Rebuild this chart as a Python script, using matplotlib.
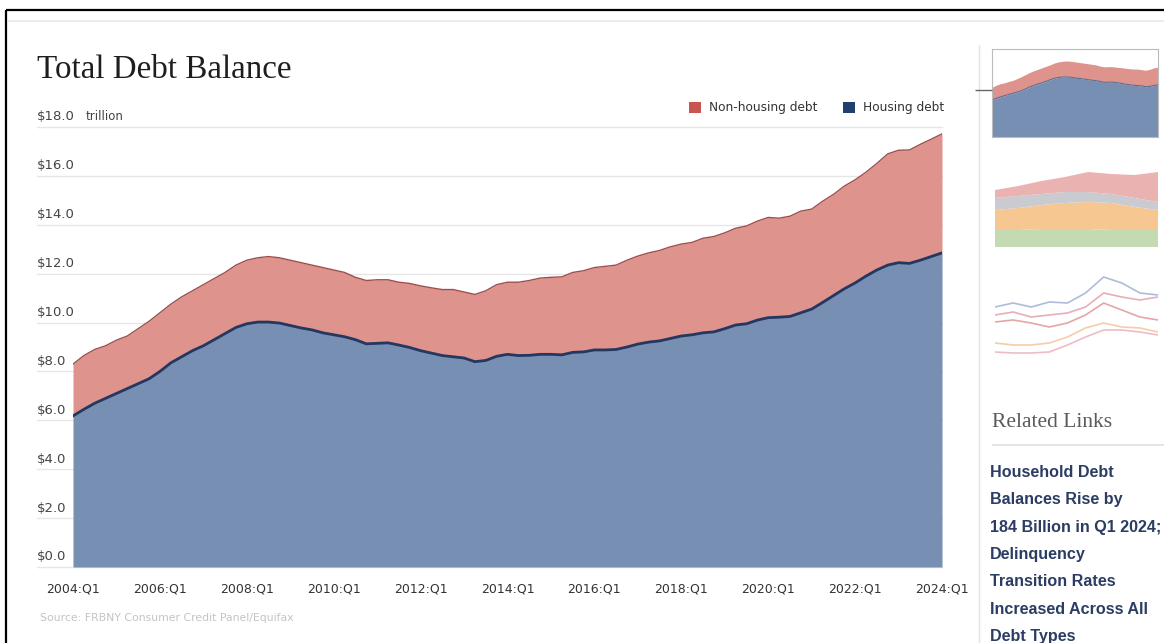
import matplotlib
matplotlib.use("Agg")
import matplotlib.pyplot as plt
from matplotlib import transforms
from matplotlib.lines import Line2D
from matplotlib.patches import Rectangle
import numpy as np

W, H = 1164, 643

# ---------------- data ----------------
tick_labels = ["2004:Q1", "2006:Q1", "2008:Q1", "2010:Q1", "2012:Q1", "2014:Q1",
               "2016:Q1", "2018:Q1", "2020:Q1", "2022:Q1", "2024:Q1"]

# total household debt (top of the stacked area), $ trillion, quarterly 2004Q1..2024Q1
total_debt = [8.30, 8.65, 8.90, 9.05, 9.28, 9.45, 9.75, 10.05,
              10.40, 10.75, 11.05, 11.30, 11.55, 11.80, 12.05, 12.35,
              12.55, 12.65, 12.70, 12.65, 12.55, 12.45, 12.35, 12.25,
              12.15, 12.05, 11.85, 11.72, 11.75, 11.75, 11.65, 11.60,
              11.50, 11.42, 11.35, 11.35, 11.25, 11.15, 11.30, 11.55,
              11.65, 11.65, 11.72, 11.82, 11.85, 11.87, 12.05, 12.12,
              12.25, 12.30, 12.35, 12.55, 12.72, 12.85, 12.95, 13.10,
              13.21, 13.28, 13.45, 13.52, 13.67, 13.86, 13.95, 14.15,
              14.30, 14.27, 14.35, 14.56, 14.64, 14.96, 15.24, 15.58,
              15.84, 16.15, 16.51, 16.90, 17.05, 17.06, 17.29, 17.50,
              17.72]

# housing debt, $ trillion
housing_debt = [6.18, 6.45, 6.70, 6.90, 7.10, 7.30, 7.50, 7.70,
                8.00, 8.35, 8.60, 8.85, 9.05, 9.30, 9.55, 9.80,
                9.95, 10.02, 10.02, 9.98, 9.88, 9.78, 9.70, 9.58,
                9.50, 9.42, 9.30, 9.13, 9.15, 9.17, 9.08, 8.98,
                8.85, 8.75, 8.65, 8.60, 8.55, 8.40, 8.45, 8.62,
                8.70, 8.65, 8.66, 8.70, 8.70, 8.68, 8.78, 8.80,
                8.88, 8.88, 8.90, 9.00, 9.12, 9.20, 9.25, 9.35,
                9.45, 9.50, 9.58, 9.62, 9.75, 9.90, 9.95, 10.10,
                10.20, 10.22, 10.25, 10.40, 10.55, 10.82, 11.10, 11.38,
                11.62, 11.90, 12.15, 12.35, 12.45, 12.42, 12.55, 12.70,
                12.85]

y_ticks = [0, 2, 4, 6, 8, 10, 12, 14, 16, 18]

# thumbnail 2 (stacked layers, arbitrary units)
thumb2_green = [17, 17, 18, 18, 18, 17, 17, 17]
thumb2_orange = [20, 22, 24, 26, 27, 27, 23, 20]
thumb2_gray = [12, 12, 11, 11, 10, 9, 9, 8]
thumb2_pink = [8, 10, 13, 15, 20, 20, 23, 30]

# thumbnail 3 (lines, arbitrary units)
thumb3_blue = [55, 59, 55, 60, 59, 69, 85, 79, 69, 67]
thumb3_rose = [47, 50, 45, 47, 49, 55, 69, 65, 62, 65]
thumb3_red = [40, 42, 39, 35, 39, 47, 59, 52, 45, 42]
thumb3_orange = [19, 17, 17, 19, 25, 34, 39, 35, 34, 30]
thumb3_pink = [10, 9, 9, 10, 17, 25, 32, 32, 30, 27]

related_links = ["Household Debt", "Balances Rise by", "184 Billion in Q1 2024;",
                 "Delinquency", "Transition Rates", "Increased Across All", "Debt Types"]

# ---------------- colours ----------------
RED_FILL = "#DE938D"
BLUE_FILL = "#768FB2"
BLUE_LINE = "#233760"
RED_LINE = "#9E4E4C"


def fx(x):
    return x / W


def fy(y):
    return 1 - y / H


def axes_px(x0, y0, x1, y1):
    return fig.add_axes([fx(x0), fy(y1), (x1 - x0) / W, (y1 - y0) / H])


def hline(x0, x1, y, color, lw):
    fig.add_artist(Line2D([fx(x0), fx(x1)], [fy(y), fy(y)], transform=fig.transFigure,
                          color=color, lw=lw, solid_capstyle="butt"))


def vline(x, y0, y1, color, lw):
    fig.add_artist(Line2D([fx(x), fx(x)], [fy(y0), fy(y1)], transform=fig.transFigure,
                          color=color, lw=lw, solid_capstyle="butt"))


fig = plt.figure(figsize=(W / 100, H / 100), dpi=100)
fig.patch.set_facecolor("white")

# page decorations
hline(6, W, 10, "#000000", 1.6)
vline(6, 10, H, "#000000", 1.6)
hline(8, W, 21, "#E8E8E8", 1.2)
vline(979, 45, H, "#E2E2E2", 1.0)

# ---------------- main chart ----------------
ax = axes_px(73, 127, 942, 567)
x = np.arange(len(total_debt))
ax.set_xlim(0, len(total_debt) - 1)
ax.set_ylim(0, 18)
for s in ax.spines.values():
    s.set_visible(False)
ax.set_facecolor("none")

for v in y_ticks:
    ax.axhline(v, xmin=(37 - 73) / 869, xmax=1.0, color="#E6E6E6", lw=1.0,
               zorder=0, clip_on=False)

ax.fill_between(x, 0, housing_debt, color=BLUE_FILL, lw=0, zorder=2)
ax.fill_between(x, housing_debt, total_debt, color=RED_FILL, lw=0, zorder=2)
ax.plot(x, total_debt, color=RED_LINE, lw=1.0, zorder=3)
ax.plot(x, housing_debt, color=BLUE_LINE, lw=2.0, zorder=3)

ax.set_yticks([])
ax.set_xticks(np.arange(0, len(total_debt), 8))
ax.set_xticklabels(tick_labels)
ax.tick_params(axis="x", length=0, pad=11.5, labelsize=9, labelcolor="#333333")
for lab in ax.get_xticklabels():
    lab.set_fontfamily("DejaVu Sans")

blend = transforms.blended_transform_factory(fig.transFigure, ax.transData)
lab_tr = transforms.offset_copy(blend, fig=fig, x=0, y=10, units="dots")
for v in y_ticks:
    ax.text(fx(37), v, f"${v:.1f}", transform=lab_tr, ha="left", va="center",
            fontsize=9.5, color="#444444", family="DejaVu Sans", zorder=5, clip_on=False)
fig.text(fx(86), fy(116), "trillion", ha="left", va="center", fontsize=8.5,
         color="#444444", family="DejaVu Sans")

# title
fig.text(fx(37), fy(78), "Total Debt Balance", ha="left", va="baseline",
         fontsize=23.8, color="#1E1E1E", family="Liberation Serif")

# legend
fig.add_artist(Rectangle((fx(689), fy(113)), 12 / W, 11 / H, transform=fig.transFigure,
                         color="#C75652", lw=0))
fig.text(fx(709), fy(108), "Non-housing debt", ha="left", va="center", fontsize=8.7,
         color="#333333", family="DejaVu Sans")
fig.add_artist(Rectangle((fx(843), fy(113)), 12 / W, 11 / H, transform=fig.transFigure,
                         color="#21406F", lw=0))
fig.text(fx(863), fy(108), "Housing debt", ha="left", va="center", fontsize=8.7,
         color="#333333", family="DejaVu Sans")

# source
fig.text(fx(40), fy(618), "Source: FRBNY Consumer Credit Panel/Equifax", ha="left",
         va="center", fontsize=7.8, color="#C4C4C4", family="DejaVu Sans")

# ---------------- thumbnail 1 ----------------
t1 = axes_px(992, 49, 1158, 137)
n1 = 41
xt = np.arange(n1)
t1.fill_between(xt, 0, housing_debt[:n1], color=BLUE_FILL, lw=0)
t1.fill_between(xt, housing_debt[:n1], total_debt[:n1], color=RED_FILL, lw=0)
t1.plot(xt, housing_debt[:n1], color="#5E6F93", lw=0.8)
t1.set_xlim(0, n1 - 1)
t1.set_ylim(0, 14.7)
t1.set_xticks([])
t1.set_yticks([])
for s in t1.spines.values():
    s.set_color("#BBBBBB")
    s.set_linewidth(0.8)
hline(975, 992, 90, "#666666", 1.0)

# ---------------- thumbnail 2 ----------------
t2 = axes_px(995, 160, 1158, 247)
x2 = np.arange(len(thumb2_green))
t2.stackplot(x2, thumb2_green, thumb2_orange, thumb2_gray, thumb2_pink,
             colors=["#C3DAB2", "#F7C792", "#CACBD0", "#EAB3B1"], lw=0)
t2.set_xlim(0, len(x2) - 1)
t2.set_ylim(0, 87)
t2.axis("off")

# ---------------- thumbnail 3 ----------------
t3 = axes_px(995, 270, 1158, 362)
x3 = np.arange(len(thumb3_blue))
for series, col in [(thumb3_blue, "#AFBCD8"), (thumb3_rose, "#E8AEB8"),
                    (thumb3_red, "#E5A6A4"), (thumb3_orange, "#F5CDAA"),
                    (thumb3_pink, "#EFBCC4")]:
    t3.plot(x3, series, color=col, lw=1.2)
t3.set_xlim(0, len(x3) - 1)
t3.set_ylim(0, 92)
t3.axis("off")

# ---------------- related links ----------------
fig.text(fx(992), fy(427), "Related Links", ha="left", va="baseline", fontsize=15.5,
         color="#5A5A5A", family="Liberation Serif")
hline(992, W, 445, "#E2E2E2", 1.3)
for k, line in enumerate(related_links):
    fig.text(fx(990), fy(477 + 27.3 * k), line, ha="left", va="baseline", fontsize=11.6,
             color="#2B3D63", family="Liberation Sans", fontweight="bold")

fig.savefig("out.png", dpi=100)
